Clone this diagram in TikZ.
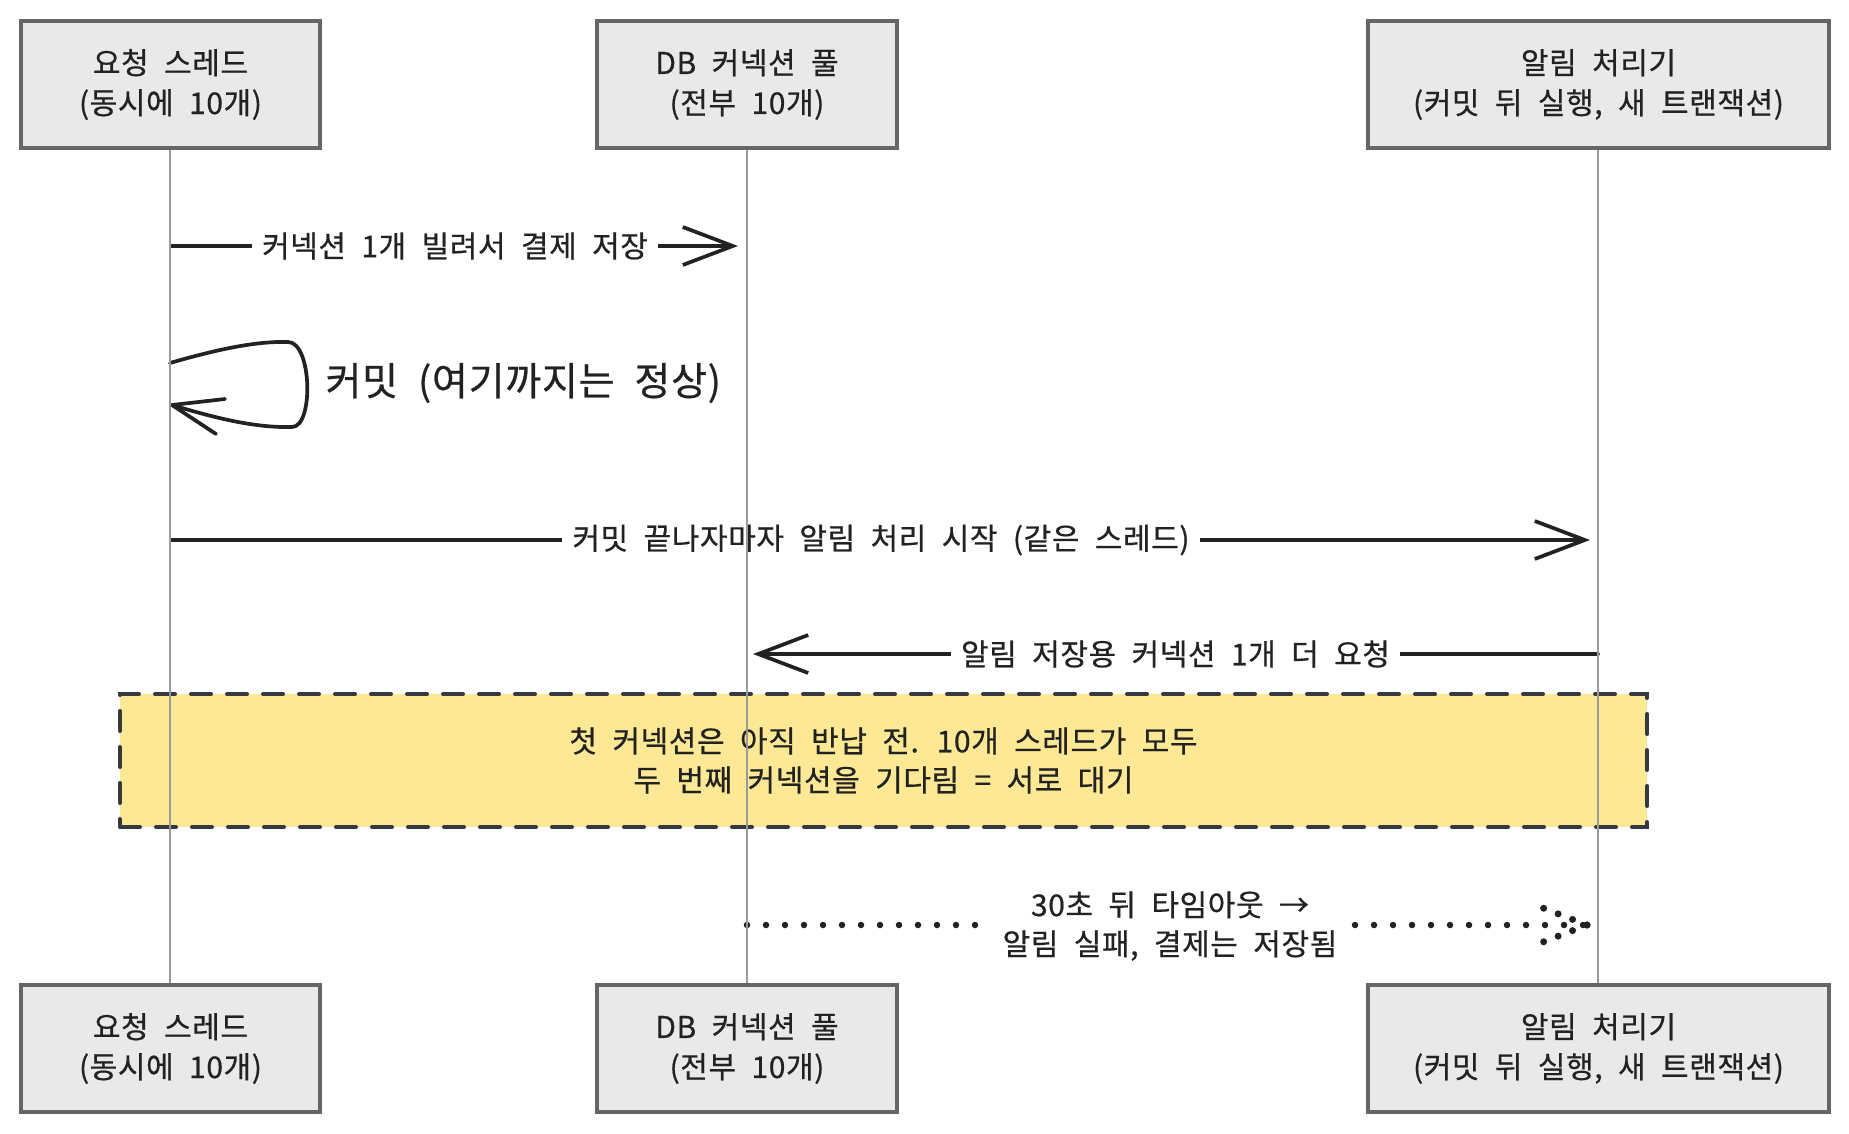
\documentclass[tikz,border=0pt]{standalone}
\usepackage{fontspec}
\setmainfont{Noto Sans CJK KR}[WordSpace=2.1,LetterSpace=2,FakeBold=0.6]
\usetikzlibrary{arrows.meta}
\definecolor{boxfill}{HTML}{E9E9E9}
\definecolor{boxline}{HTML}{666666}
\definecolor{notefill}{HTML}{FDE995}
\definecolor{noteline}{HTML}{363A3E}
\definecolor{ink}{HTML}{222222}
\definecolor{lifegray}{HTML}{9A9A9A}
\begin{document}
\begin{tikzpicture}[x=1pt,y=-1pt,
  actor/.style={draw=boxline,fill=boxfill,line width=3.5pt,minimum height=127pt,
    align=center,font=\fontsize{30}{40}\selectfont,text=ink,inner sep=0pt},
  msg/.style={draw=ink,line width=3.7pt,line cap=round,line join=round},
  barbhead/.style={-{Straight Barb[length=50pt,width=38pt]}},
  lbl/.style={fill=white,inner xsep=10pt,inner ysep=2pt,
    font=\fontsize{30}{39}\selectfont,text=ink,align=center},
  lifeline/.style={draw=lifegray,line width=2pt},
  dotline/.style={draw=ink,line width=6.5pt,line cap=round,dash pattern=on 0pt off 19pt},
  dothead/.style={draw=ink,line width=7pt,line cap=round,dash pattern=on 0pt off 15.5pt},
  notebox/.style={draw=noteline,fill=notefill,line width=4pt,line cap=round,
    dash pattern=on 20pt off 16pt,minimum width=1527pt,minimum height=133pt,
    align=center,font=\fontsize{30}{39}\selectfont,text=ink,inner sep=0pt},
]
\useasboundingbox[fill=white] (0,0) rectangle (1849,1134);

% note
\node[notebox] (note) at (883.5,760.5) {첫 커넥션은 아직 반납 전. 10개 스레드가 모두\\두 번째 커넥션을 기다림 = 서로 대기};

% message 1
\coordinate (m1s) at (172,246);
\coordinate (m1e) at (738,246);
\draw[msg,barbhead] (m1s) -- (m1e) node[lbl,midway] (m1l) {커넥션 1개 빌려서 결제 저장};

% self loop
\coordinate (lps) at (170,363);
\coordinate (lpa) at (288,342);
\coordinate (lpb) at (292,427);
\coordinate (lpe) at (172,405);
\coordinate (lph1) at (225,399);
\coordinate (lph2) at (216,434);
\draw[msg] (lps) .. controls (215,350) and (255,341) .. (lpa)
  .. controls (312,342) and (314,427) .. (lpb)
  .. controls (255,428) and (215,418) .. (lpe);
\draw[msg] (lph1) -- (lpe) -- (lph2);
\node[anchor=west,font=\fontsize{39}{42}\selectfont,text=ink] (lpl) at (322,383) {커밋 (여기까지는 정상)};

% message 3
\coordinate (m3s) at (172,540);
\coordinate (m3e) at (1590,540);
\draw[msg,barbhead] (m3s) -- (m3e) node[lbl,midway] (m3l) {커밋 끝나자마자 알림 처리 시작 (같은 스레드)};

% message 4
\coordinate (m4s) at (1598,654);
\coordinate (m4e) at (753,654);
\draw[msg,barbhead] (m4s) -- (m4e) node[lbl,midway] (m4l) {알림 저장용 커넥션 1개 더 요청};

% dotted message
\coordinate (d1) at (747,925);
\coordinate (d2) at (1587,925);
\draw[dotline] (d1) -- (d2);
\draw[dothead] (d2) -- ++(-44,-17);
\draw[dothead] (d2) -- ++(-44,17);
\node[lbl,inner xsep=14pt] (dl) at (1170,926) {30초 뒤 타임아웃 →\\알림 실패, 결제는 저장됨};

% lifelines
\coordinate (l1t) at (170,149);
\coordinate (l1b) at (170,983);
\coordinate (l2t) at (747,149);
\coordinate (l2b) at (747,983);
\coordinate (l3t) at (1598,149);
\coordinate (l3b) at (1598,983);
\draw[lifeline] (l1t) -- (l1b);
\draw[lifeline] (l2t) -- (l2b);
\draw[lifeline] (l3t) -- (l3b);

% actors top
\node[actor,minimum width=299pt] (t1) at (170.5,84.5) {요청 스레드\\(동시에 10개)};
\node[actor,minimum width=300pt] (t2) at (747,84.5) {DB 커넥션 풀\\(전부 10개)};
\node[actor,minimum width=461pt] (t3) at (1598.5,84.5) {알림 처리기\\(커밋 뒤 실행, 새 트랜잭션)};
% actors bottom
\node[actor,minimum width=299pt] (b1) at (170.5,1048.5) {요청 스레드\\(동시에 10개)};
\node[actor,minimum width=300pt] (b2) at (747,1048.5) {DB 커넥션 풀\\(전부 10개)};
\node[actor,minimum width=461pt] (b3) at (1598.5,1048.5) {알림 처리기\\(커밋 뒤 실행, 새 트랜잭션)};
\end{tikzpicture}
\end{document}
